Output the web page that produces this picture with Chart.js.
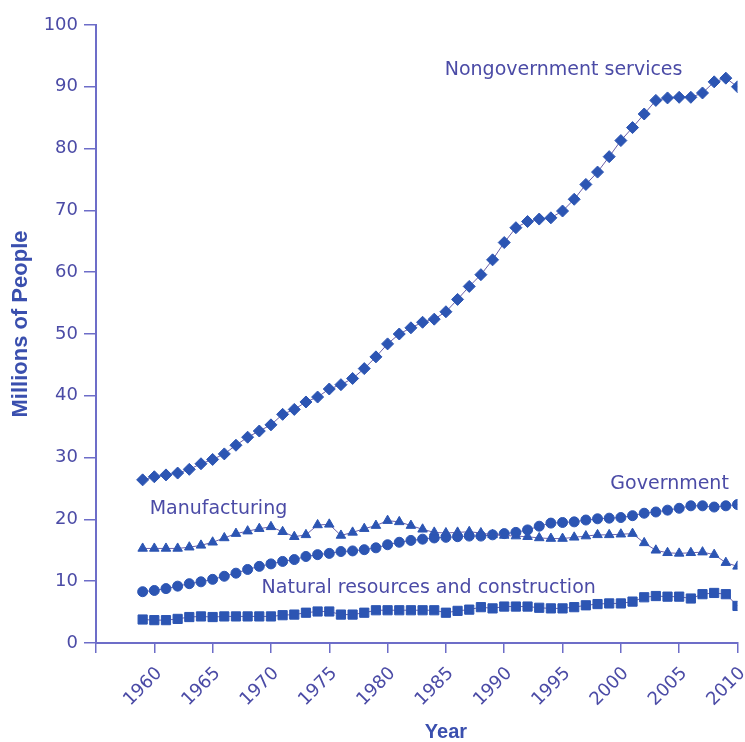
<!DOCTYPE html>
<html>
<head>
<meta charset="utf-8">
<script src="https://cdn.jsdelivr.net/npm/chart.js@4.4.0/dist/chart.umd.min.js"></script>
<style>
  html, body { margin: 0; padding: 0; background: #fff; }
  #wrap { width: 745px; height: 742px; }
</style>
</head>
<body>
<div id="wrap"><canvas id="myChart"></canvas></div>
<script>
var years = [1959, 1960, 1961, 1962, 1963, 1964, 1965, 1966, 1967, 1968,
  1969, 1970, 1971, 1972, 1973, 1974, 1975, 1976, 1977, 1978,
  1979, 1980, 1981, 1982, 1983, 1984, 1985, 1986, 1987, 1988,
  1989, 1990, 1991, 1992, 1993, 1994, 1995, 1996, 1997, 1998,
  1999, 2000, 2001, 2002, 2003, 2004, 2005, 2006, 2007, 2008,
  2009, 2010];

var nongovernment = [26.4, 26.9, 27.2, 27.5, 28.1, 29.0, 29.7, 30.6, 32.0, 33.3,
  34.3, 35.3, 37.0, 37.8, 39.0, 39.8, 41.1, 41.8, 42.8, 44.4,
  46.3, 48.4, 50.0, 51.0, 51.9, 52.4, 53.6, 55.6, 57.7, 59.6,
  62.0, 64.8, 67.2, 68.2, 68.6, 68.8, 69.9, 71.8, 74.2, 76.2,
  78.7, 81.3, 83.4, 85.6, 87.8, 88.2, 88.3, 88.3, 89.0, 90.8,
  91.4, 90.0];

var manufacturing = [15.3, 15.3, 15.3, 15.3, 15.5, 15.8, 16.3, 17.0, 17.7, 18.1,
  18.5, 18.8, 18.0, 17.2, 17.5, 19.1, 19.2, 17.4, 17.9, 18.5,
  19.0, 19.8, 19.6, 19.0, 18.4, 17.9, 17.8, 17.9, 18.0, 17.8,
  17.5, 17.4, 17.3, 17.2, 17.0, 16.9, 16.9, 17.1, 17.3, 17.5,
  17.5, 17.6, 17.7, 16.2, 15.0, 14.6, 14.5, 14.6, 14.7, 14.3,
  13.0, 12.4];

var government = [8.3, 8.5, 8.8, 9.2, 9.6, 9.9, 10.3, 10.8, 11.3, 11.9,
  12.4, 12.8, 13.2, 13.5, 14.0, 14.3, 14.5, 14.8, 14.9, 15.1,
  15.4, 15.9, 16.3, 16.6, 16.8, 17.0, 17.1, 17.2, 17.3, 17.3,
  17.5, 17.7, 17.9, 18.3, 18.9, 19.4, 19.5, 19.6, 19.9, 20.1,
  20.2, 20.3, 20.6, 21.0, 21.2, 21.5, 21.8, 22.2, 22.2, 22.0,
  22.2, 22.4];

var naturalResources = [3.8, 3.7, 3.7, 3.9, 4.2, 4.3, 4.2, 4.3, 4.3, 4.3,
  4.3, 4.3, 4.5, 4.6, 4.9, 5.1, 5.1, 4.6, 4.6, 4.9,
  5.3, 5.3, 5.3, 5.3, 5.3, 5.3, 4.9, 5.2, 5.4, 5.8,
  5.6, 5.9, 5.9, 5.9, 5.7, 5.6, 5.6, 5.8, 6.1, 6.3,
  6.4, 6.4, 6.7, 7.4, 7.6, 7.5, 7.5, 7.2, 7.9, 8.1,
  7.9, 6.0];

var xTicks = [1955, 1960, 1965, 1970, 1975, 1980, 1985, 1990, 1995, 2000, 2005, 2010];

// series labels placed in data units (left edge, baseline)
var notes = [
  { text: "Nongovernment services", x: 1984.9, y: 91.9 },
  { text: "Government", x: 1999.1, y: 24.9 },
  { text: "Manufacturing", x: 1959.6, y: 20.9 },
  { text: "Natural resources and construction", x: 1969.2, y: 8.1 }
];

var markColor = "#2c55b3";
var lineColor = "#6a5fa8";
var axisColor = "#6d6dc8";
var textColor = "#4b4ba6";
var titleColor = "#3a4fae";

function pts(vals) {
  return years.map(function (yr, i) { return { x: yr, y: vals[i] }; });
}

function series(vals, style, radius) {
  return {
    data: pts(vals),
    borderColor: lineColor,
    borderWidth: 1,
    pointStyle: style,
    pointRadius: radius,
    pointBackgroundColor: markColor,
    pointBorderColor: markColor,
    pointBorderWidth: 1,
    tension: 0
  };
}

var notesPlugin = {
  id: "notes",
  afterDraw: function (chart) {
    var ctx = chart.ctx;
    var xs = chart.scales.x, ys = chart.scales.y;
    ctx.save();
    ctx.fillStyle = textColor;
    ctx.font = "19px 'DejaVu Sans'";
    ctx.textAlign = "left";
    ctx.textBaseline = "alphabetic";
    notes.forEach(function (n) {
      ctx.fillText(n.text, xs.getPixelForValue(n.x), ys.getPixelForValue(n.y));
    });
    // axis titles
    ctx.font = "bold 20px 'Liberation Sans'";
    ctx.fillStyle = titleColor;
    ctx.textAlign = "center";
    ctx.textBaseline = "middle";
    ctx.fillText("Year", 446, 732);
    ctx.translate(21, 324);
    ctx.rotate(-Math.PI / 2);
    ctx.font = "bold 22px 'Liberation Sans'";
    ctx.fillText("Millions of People", 0, 0);
    ctx.restore();
  }
};

new Chart("myChart", {
  type: "line",
  data: {
    datasets: [
      series(nongovernment, "rectRot", 6),
      series(manufacturing, "triangle", 5.5),
      series(government, "circle", 5),
      series(naturalResources, "rect", 6.5)
    ]
  },
  options: {
    responsive: true,
    maintainAspectRatio: false,
    animation: false,
    layout: { padding: { top: 25, right: 6, bottom: 0, left: 0 } },
    plugins: {
      legend: { display: false },
      tooltip: { enabled: false }
    },
    scales: {
      x: {
        type: "linear",
        min: 1955,
        max: 2010,
        afterBuildTicks: function (scale) {
          scale.ticks = xTicks.map(function (v) { return { value: v }; });
        },
        afterFit: function (scale) {
          scale.height = 99;
          scale.paddingLeft = 0;
          scale.paddingRight = 0;
        },
        border: { color: axisColor, width: 2 },
        grid: { drawOnChartArea: false, drawTicks: true, tickLength: 10, color: axisColor, lineWidth: 1.5 },
        ticks: {
          color: textColor,
          font: { family: "'DejaVu Sans'", size: 18 },
          minRotation: 45,
          maxRotation: 45,
          autoSkip: false,
          padding: 10,
          labelOffset: 5,
          callback: function (v) { return v === 1955 ? "" : String(v); }
        }
      },
      y: {
        min: 0,
        max: 100,
        afterFit: function (scale) { scale.width = 96; },
        border: { color: axisColor, width: 2 },
        grid: { drawOnChartArea: false, drawTicks: true, tickLength: 12, color: axisColor, lineWidth: 1.5 },
        ticks: {
          stepSize: 10,
          color: textColor,
          padding: 6,
          font: { family: "'DejaVu Sans'", size: 18 }
        }
      }
    }
  },
  plugins: [notesPlugin]
});
</script>
</body>
</html>
